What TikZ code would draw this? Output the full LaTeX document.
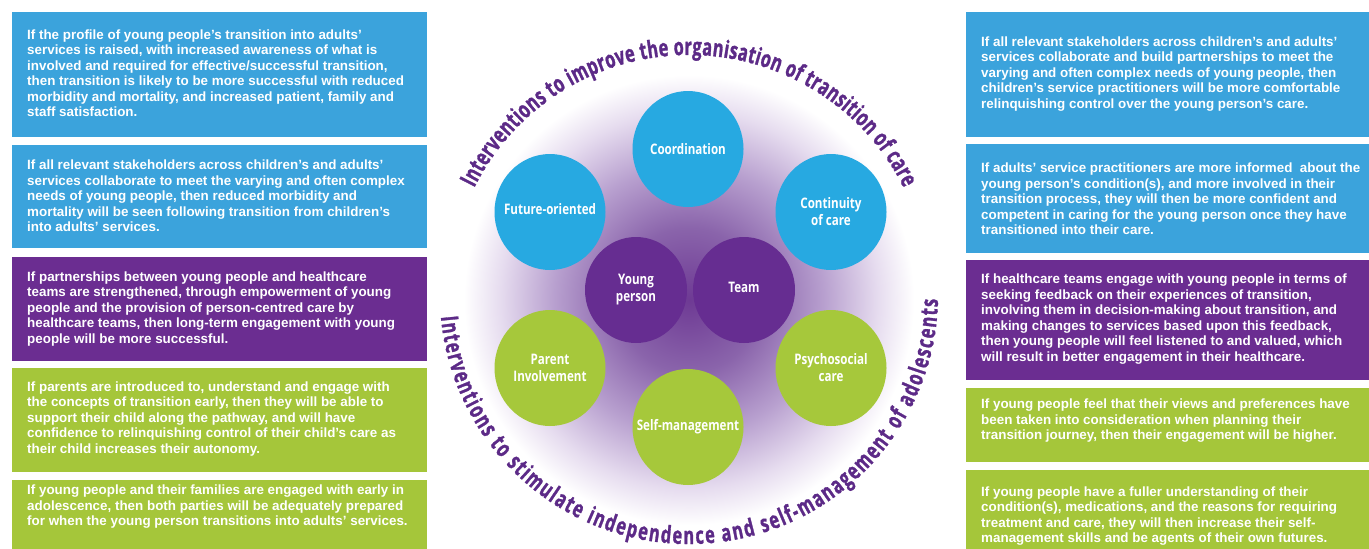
\documentclass[tikz,border=0pt]{standalone}
\usepackage{fontspec}
\usetikzlibrary{decorations.text,shapes.geometric}
\newfontfamily\boxfont{Liberation Sans}
\newfontfamily\circfont{Open Sans}[FakeStretch=0.8]
\newfontfamily\arcfontfam{Open Sans}[FakeStretch=0.68,FakeBold=1.2]
\newcommand\myarcfont{\arcfontfam\bfseries\fontsize{24}{24}\selectfont}
\definecolor{boxblue}{HTML}{3BA3DC}
\definecolor{boxpurple}{HTML}{6B2D91}
\definecolor{boxgreen}{HTML}{A5C63A}
\definecolor{cblue}{HTML}{27A9E1}
\definecolor{cpurple}{HTML}{662D91}
\definecolor{cgreen}{HTML}{A6C83B}
\definecolor{arcpurple}{HTML}{5C2A87}
\definecolor{glowA}{HTML}{6E3A94}
\definecolor{glowB}{HTML}{8A64AB}
\definecolor{glowC}{HTML}{B8A0CF}
\definecolor{glowD}{HTML}{E6DCEF}
\pgfdeclareradialshading{glow}{\pgfpoint{0bp}{0bp}}{color(0bp)=(glowA); color(8bp)=(glowB); color(15bp)=(glowC); color(21bp)=(glowD); color(25bp)=(white); color(50bp)=(white)}
\begin{document}
\begin{tikzpicture}[x=1pt,y=1pt,
  box/.style={rectangle, draw=none, inner sep=0, anchor=north west},
  btext/.style={inner sep=0, anchor=west, align=left, text=white, font=\boxfont\bfseries\fontsize{13.4}{15.5}\selectfont},
  bubble/.style={ellipse, draw=none, inner sep=0, minimum width=111, minimum height=116},
  hub/.style={ellipse, draw=none, inner sep=0, minimum width=102, minimum height=106, fill=cpurple},
  ctext/.style={inner sep=0, text=white, align=center, font=\circfont\bfseries\fontsize{14.5}{17}\selectfont},
  arctext/.style={decorate, decoration={text along path, text align={fit to path}, text color=arcpurple}}]
\useasboundingbox (0,0) rectangle (1369,-549);
\clip (0,0) rectangle (1369,-549);
\fill[white] (0,0) rectangle (1369,-549);
% glow
\coordinate (G) at (689,-300);
\shade[shading=glow] (G) circle (225pt);
% circles
\node[bubble, fill=cblue] (coord) at (688,-149) {};
\node[bubble, fill=cblue] (future) at (550,-212) {};
\node[bubble, fill=cblue] (contin) at (831,-212) {};
\node[hub] (young) at (636,-290) {};
\node[hub] (team) at (744,-290) {};
\node[bubble, fill=cgreen] (parent) at (550,-368) {};
\node[bubble, fill=cgreen] (psycho) at (831,-368) {};
\node[bubble, fill=cgreen] (selfm) at (688,-427) {};
\node[ctext] (coordT) at (coord) {Coordination};
\node[ctext] (futureT) at ([yshift=3]future.center) {Future-oriented};
\node[ctext] (continT) at (contin) {Continuity\\of care};
\node[ctext] (youngT) at (young) {Young\\person};
\node[ctext] (teamT) at ([yshift=3]team.center) {Team};
\node[ctext] (parentT) at (parent) {Parent\\Involvement};
\node[ctext] (psychoT) at (psycho) {Psychosocial\\care};
\node[ctext] (selfmT) at (selfm) {Self-management};
% arc texts
\coordinate (C) at (689,-295);
\path[arctext, decoration={text={|\myarcfont|Interventions to improve the organisation of transition of care}}]
  ([shift={(C)}]153.5:240pt) arc[start angle=153.5, end angle=26.5, radius=240pt];
\path[arctext, decoration={text={|\myarcfont|Interventions to stimulate independence and self-management of adolescents}}]
  ([shift={(C)}]185:249pt) arc[start angle=185, end angle=359, radius=249pt];
% left boxes
\node[box, fill=boxblue, minimum width=415, minimum height=125] (L1) at (12,-12) {};
\node[box, fill=boxblue, minimum width=415, minimum height=103] (L2) at (12,-145) {};
\node[box, fill=boxpurple, minimum width=415, minimum height=104] (L3) at (12,-257) {};
\node[box, fill=boxgreen, minimum width=415, minimum height=104] (L4) at (12,-368) {};
\node[box, fill=boxgreen, minimum width=415, minimum height=90] (L5) at (12,-480) {};
\node[btext] (L1t) at (27,-73) {If the profile of young people’s transition into adults’\\services is raised, with increased awareness of what is\\involved and required for effective/successful transition,\\then transition is likely to be more successful with reduced\\morbidity and mortality, and increased patient, family and\\staff satisfaction.};
\node[btext] (L2t) at (27,-196) {If all relevant stakeholders across children’s and adults’\\services collaborate to meet the varying and often complex\\needs of young people, then reduced morbidity and\\mortality will be seen following transition from children’s\\into adults’ services.};
\node[btext] (L3t) at (27,-309) {If partnerships between young people and healthcare\\teams are strengthened, through empowerment of young\\people and the provision of person-centred care by\\healthcare teams, then long-term engagement with young\\people will be more successful.};
\node[btext] (L4t) at (27,-419) {If parents are introduced to, understand and engage with\\the concepts of transition early, then they will be able to\\support their child along the pathway, and will have\\confidence to relinquishing control of their child’s care as\\their child increases their autonomy.};
\node[btext] (L5t) at (27,-507) {If young people and their families are engaged with early in\\adolescence, then both parties will be adequately prepared\\for when the young person transitions into adults’ services.};
% right boxes
\node[box, fill=boxblue, minimum width=414, minimum height=125] (R1) at (966,-12) {};
\node[box, fill=boxblue, minimum width=414, minimum height=109] (R2) at (966,-144) {};
\node[box, fill=boxpurple, minimum width=414, minimum height=120] (R3) at (966,-260) {};
\node[box, fill=boxgreen, minimum width=414, minimum height=74] (R4) at (966,-388) {};
\node[box, fill=boxgreen, minimum width=414, minimum height=95] (R5) at (966,-470) {};
\node[btext] (R1t) at (981,-74) {If all relevant stakeholders across children’s and adults’\\services collaborate and build partnerships to meet the\\varying and often complex needs of young people, then\\children’s service practitioners will be more comfortable\\relinquishing control over the young person’s care.};
\node[btext] (R2t) at (981,-199) {If adults’ service practitioners are more informed\ \ about the\\young person’s condition(s), and more involved in their\\transition process, they will then be more confident and\\competent in caring for the young person once they have\\transitioned into their care.};
\node[btext] (R3t) at (981,-319) {If healthcare teams engage with young people in terms of\\seeking feedback on their experiences of transition,\\involving them in decision-making about transition, and\\making changes to services based upon this feedback,\\then young people will feel listened to and valued, which\\will result in better engagement in their healthcare.};
\node[btext] (R4t) at (981,-421) {If young people feel that their views and preferences have\\been taken into consideration when planning their\\transition journey, then their engagement will be higher.};
\node[btext] (R5t) at (981,-516) {If young people have a fuller understanding of their\\condition(s), medications, and the reasons for requiring\\treatment and care, they will then increase their self-\\management skills and be agents of their own futures.};
\end{tikzpicture}
\end{document}
